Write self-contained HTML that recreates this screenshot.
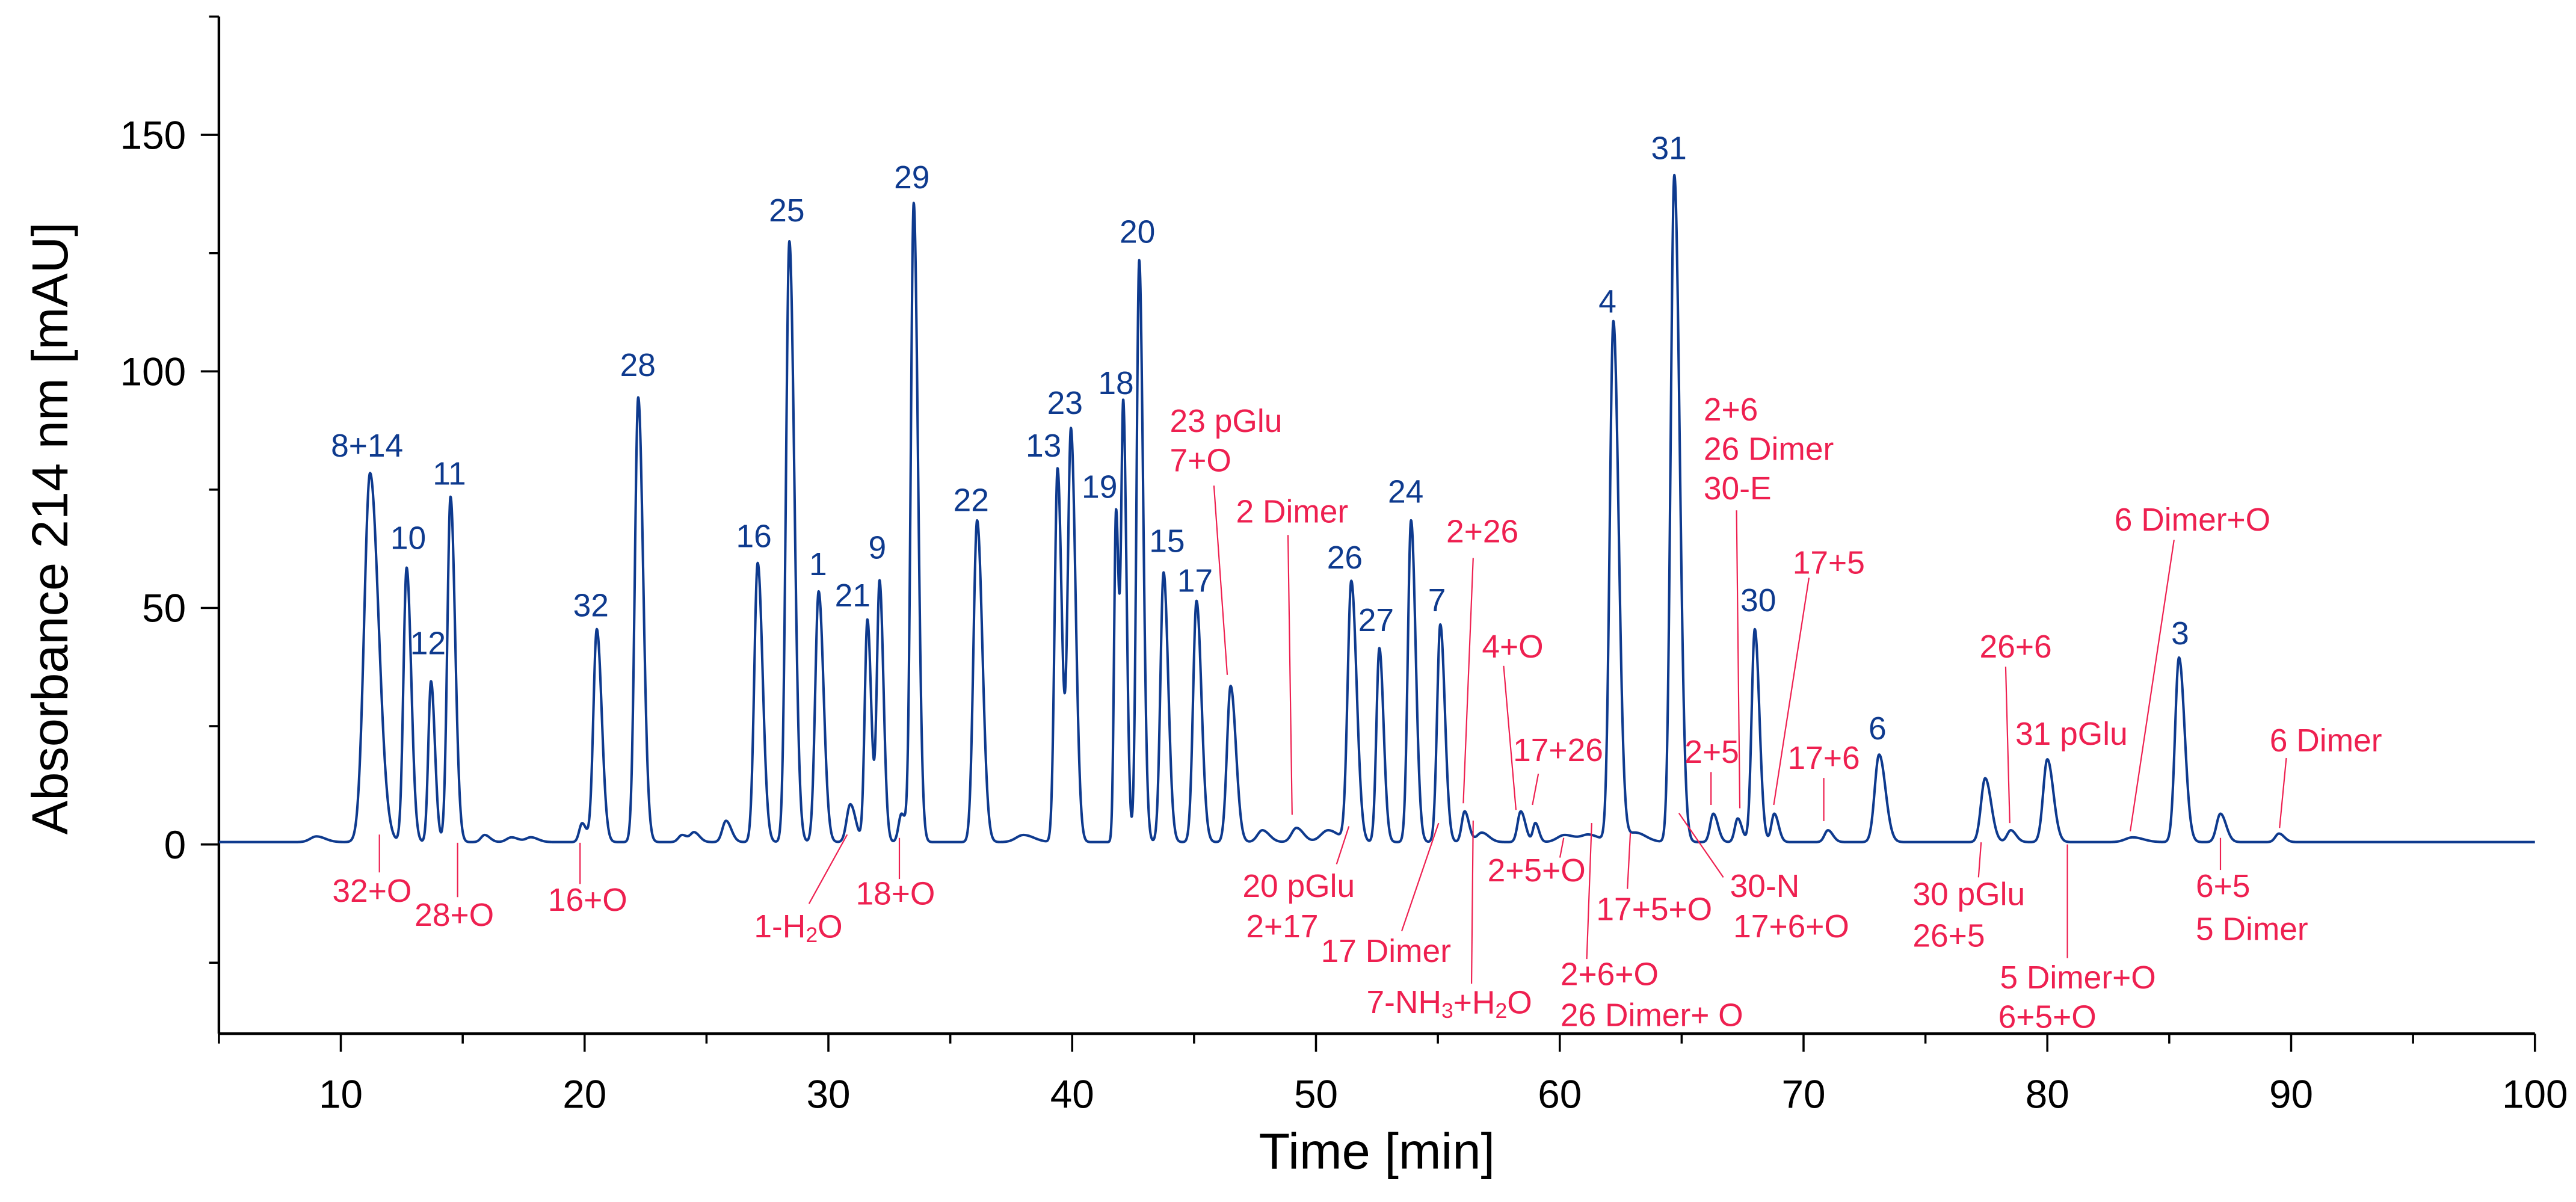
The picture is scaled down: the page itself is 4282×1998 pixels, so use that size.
<!DOCTYPE html>
<html><head><meta charset="utf-8"><style>
html,body{margin:0;padding:0;background:#fff;}
svg{display:block;font-family:"Liberation Sans",Arial,sans-serif;}
</style></head><body>
<svg id="chart" xmlns="http://www.w3.org/2000/svg" width="4282" height="1998" viewBox="0 0 1565 730.2">
<g id="axes"></g>
<path id="trace" fill="none" stroke="#0e3a8e" stroke-width="1.5" stroke-linejoin="round"/>
<g id="blue-labels" fill="#0e3a8e" font-size="19.5" text-anchor="middle"></g>
<g id="red" fill="#ee2050" font-size="19.5" text-anchor="middle" stroke-width="0.8">
<g stroke="#ee2050">
<line x1="230.5" y1="507" x2="230.5" y2="530"/><line x1="278" y1="512" x2="278" y2="545"/>
<line x1="352.4" y1="512" x2="352.4" y2="537"/><line x1="514.7" y1="507" x2="491.5" y2="549"/>
<line x1="546.4" y1="509" x2="546.4" y2="534"/><line x1="737.5" y1="295" x2="745.6" y2="410"/>
<line x1="782.5" y1="325" x2="785" y2="495"/><line x1="819.5" y1="502" x2="812" y2="525"/>
<line x1="895" y1="339" x2="889" y2="488"/><line x1="913.5" y1="404.5" x2="921" y2="492"/>
<line x1="934.6" y1="470" x2="931" y2="489"/><line x1="874" y1="500" x2="851.6" y2="565.6"/>
<line x1="895" y1="498.5" x2="894" y2="597.6"/><line x1="950" y1="509" x2="947.7" y2="521"/>
<line x1="967" y1="500" x2="964" y2="582.6"/><line x1="990.5" y1="506" x2="988.7" y2="540"/>
<line x1="1020" y1="494" x2="1047" y2="533"/><line x1="1055" y1="310" x2="1057" y2="491"/>
<line x1="1099" y1="351" x2="1077.6" y2="489"/><line x1="1039.5" y1="469" x2="1039.5" y2="489"/>
<line x1="1108" y1="472.6" x2="1108" y2="498.8"/><line x1="1218.5" y1="405" x2="1221" y2="500"/>
<line x1="1203.6" y1="511.7" x2="1202" y2="533"/><line x1="1320.8" y1="328" x2="1294.2" y2="505"/>
<line x1="1256" y1="513" x2="1256" y2="582"/><line x1="1349" y1="509" x2="1349" y2="528.5"/>
<line x1="1389" y1="460.5" x2="1384.9" y2="503"/>
</g>
<g stroke="none" dominant-baseline="central">
<text x="226" y="541.5">32+O</text>
<text x="276" y="556">28+O</text>
<text x="357" y="547">16+O</text>
<text x="485" y="563">1-H<tspan font-size="13" dy="5">2</tspan><tspan dy="-5">O</tspan></text>
<text x="544" y="543">18+O</text>
<text x="710.7" y="256" text-anchor="start">23 pGlu</text>
<text x="710.7" y="280" text-anchor="start">7+O</text>
<text x="785" y="311">2 Dimer</text>
<text x="789" y="538.5">20 pGlu</text>
<text x="779" y="563">2+17</text>
<text x="900.6" y="323">2+26</text>
<text x="919" y="393">4+O</text>
<text x="946.6" y="456">17+26</text>
<text x="842" y="578">17 Dimer</text>
<text x="880.5" y="609">7-NH<tspan font-size="13" dy="5">3</tspan><tspan dy="-5">+H</tspan><tspan font-size="13" dy="5">2</tspan><tspan dy="-5">O</tspan></text>
<text x="933.5" y="529">2+5+O</text>
<text x="948" y="592" text-anchor="start">2+6+O</text>
<text x="948" y="617" text-anchor="start">26 Dimer+ O</text>
<text x="1005" y="552.6">17+5+O</text>
<text x="1051" y="538.5" text-anchor="start">30-N</text>
<text x="1053" y="563" text-anchor="start">17+6+O</text>
<text x="1035" y="249" text-anchor="start">2+6</text>
<text x="1035" y="273" text-anchor="start">26 Dimer</text>
<text x="1035" y="297" text-anchor="start">30-E</text>
<text x="1111" y="342">17+5</text>
<text x="1040" y="457">2+5</text>
<text x="1108" y="460.6">17+6</text>
<text x="1224.6" y="393">26+6</text>
<text x="1258.5" y="446">31 pGlu</text>
<text x="1162" y="543.5" text-anchor="start">30 pGlu</text>
<text x="1162" y="568.7" text-anchor="start">26+5</text>
<text x="1332" y="316">6 Dimer+O</text>
<text x="1215" y="594" text-anchor="start">5 Dimer+O</text>
<text x="1214" y="618" text-anchor="start">6+5+O</text>
<text x="1334" y="538.5" text-anchor="start">6+5</text>
<text x="1334" y="564.7" text-anchor="start">5 Dimer</text>
<text x="1413" y="450">6 Dimer</text>
</g></g>
</svg>
<script>
const peakTimes   = [9.0,11.2,12.7,13.7,14.5,15.9,17.0,17.8,19.9,20.5,22.2,24.0,24.5,25.8,27.1,28.4,29.6,30.9,31.6,32.1,33.0,33.5,36.1,38.0,39.4,39.95,41.8,42.1,42.75,43.75,45.1,46.5,47.8,49.2,50.5,51.45,52.6,53.9,55.1,56.1,56.8,58.4,59.0,60.2,61.2,62.2,63.1,64.7,66.3,67.3,68.0,68.8,71.0,73.1,77.45,78.5,80.0,83.5,85.4,87.1,89.5];
const peakHeights = [1.2,78,58,34,73,1.5,1,1,4,45,94,1.5,2,4.5,59,127,53,8,47,55,6,135,68,1.5,79,87,70,91,123,57,51,33,2.5,3,2.5,55,41,68,46,6.5,2,6.5,4,1.5,1.5,110,2,141,6,5,45,6,2.5,18.5,13.5,2.5,17.5,1,39,6,1.8];
const peakWidths  = [0.25,0.24,0.13,0.11,0.13,0.15,0.2,0.2,0.12,0.14,0.14,0.15,0.15,0.15,0.14,0.14,0.14,0.15,0.11,0.11,0.12,0.12,0.15,0.3,0.12,0.13,0.08,0.09,0.11,0.13,0.14,0.15,0.2,0.2,0.3,0.15,0.12,0.13,0.13,0.12,0.2,0.13,0.1,0.3,0.3,0.15,0.3,0.15,0.13,0.12,0.13,0.12,0.14,0.18,0.17,0.15,0.17,0.3,0.16,0.16,0.15];
const peakNames   = ["8+14","10","12","11","32","28","16","25","1","21","9","29","22","13","23","19","18","20","15","17","26","27","24","7","4","31","30","6","3"];
const namePosX    = [223,248,260,273,359,387.5,458,478,497,518,533,554,590,634,647,668,678,691,709,726,817,836,854,873,976.6,1013.9,1068.2,1140.6,1324.5];
const namePosY    = [271,327,391,288,368,222,326,128,343,362,333,108,304,271,245,296,233,141,329,353,339,377,299,365,183.5,90.3,365,442.7,385];
const xTicks = [10,20,30,40,50,60,70,80,90,100];
const yTicks = [0,50,100,150];
const xMin=5,xMax=100,yMin=-40,yMax=175;
const X=t=>133+(t-xMin)*14.811;
const Y=v=>513-v*2.874;
const NS='http://www.w3.org/2000/svg';
function mk(tag,attrs,parent){const e=document.createElementNS(NS,tag);for(const k in attrs)e.setAttribute(k,attrs[k]);parent.appendChild(e);return e;}
const ax=document.getElementById('axes');
const xl=mk('line',{x1:X(xMin),y1:Y(yMin),x2:X(xMax),y2:Y(yMin),stroke:'#000','stroke-width':1.6},ax);


const yl=mk('line',{x1:X(xMin),y1:Y(yMin),x2:X(xMin),y2:Y(yMax),stroke:'#000','stroke-width':1.6},ax);


for(let t=xMin;t<=xMax;t+=5){const major=t%10===0;mk('line',{x1:X(t),y1:Y(yMin),x2:X(t),y2:Y(yMin)+(major?11:6),stroke:'#000','stroke-width':1.3},ax);}
xTicks.forEach(t=>{const e=mk('text',{x:X(t),y:Y(yMin)+45,'font-size':24,'text-anchor':'middle'},ax);e.textContent=t;

});
for(let v=-25;v<=175;v+=25){const major=v%50===0;mk('line',{x1:X(xMin),y1:Y(v),x2:X(xMin)-(major?11:6),y2:Y(v),stroke:'#000','stroke-width':1.3},ax);}
yTicks.forEach(v=>{const e=mk('text',{x:X(xMin)-20,y:Y(v)+8.5,'font-size':24,'text-anchor':'end'},ax);e.textContent=v;

});
const xt=mk('text',{x:(X(xMin)+X(xMax))/2,y:710,'font-size':31,'text-anchor':'middle'},ax);xt.textContent='Time [min]';


const yt=mk('text',{x:0,y:0,'font-size':31,'text-anchor':'middle',transform:'translate(41,321) rotate(-90)'},ax);yt.textContent='Absorbance 214 nm [mAU]';


let d='';
for(let t=xMin;t<=xMax+1e-9;t+=0.01){
  let v=0.5;
  for(let i=0;i<peakTimes.length;i++){const dt=t-peakTimes[i];const s=peakWidths[i]*(dt>0?1.45:1);v+=peakHeights[i]*Math.exp(-dt*dt/(2*s*s));}
  d+=(d?'L':'M')+X(t).toFixed(2)+','+Y(v).toFixed(2);
}
document.getElementById('trace').setAttribute('d',d);
const bl=document.getElementById('blue-labels');
peakNames.forEach((n,i)=>{const e=mk('text',{x:namePosX[i],y:namePosY[i],'dominant-baseline':'central'},bl);e.textContent=n;

});
</script>
</body></html>
